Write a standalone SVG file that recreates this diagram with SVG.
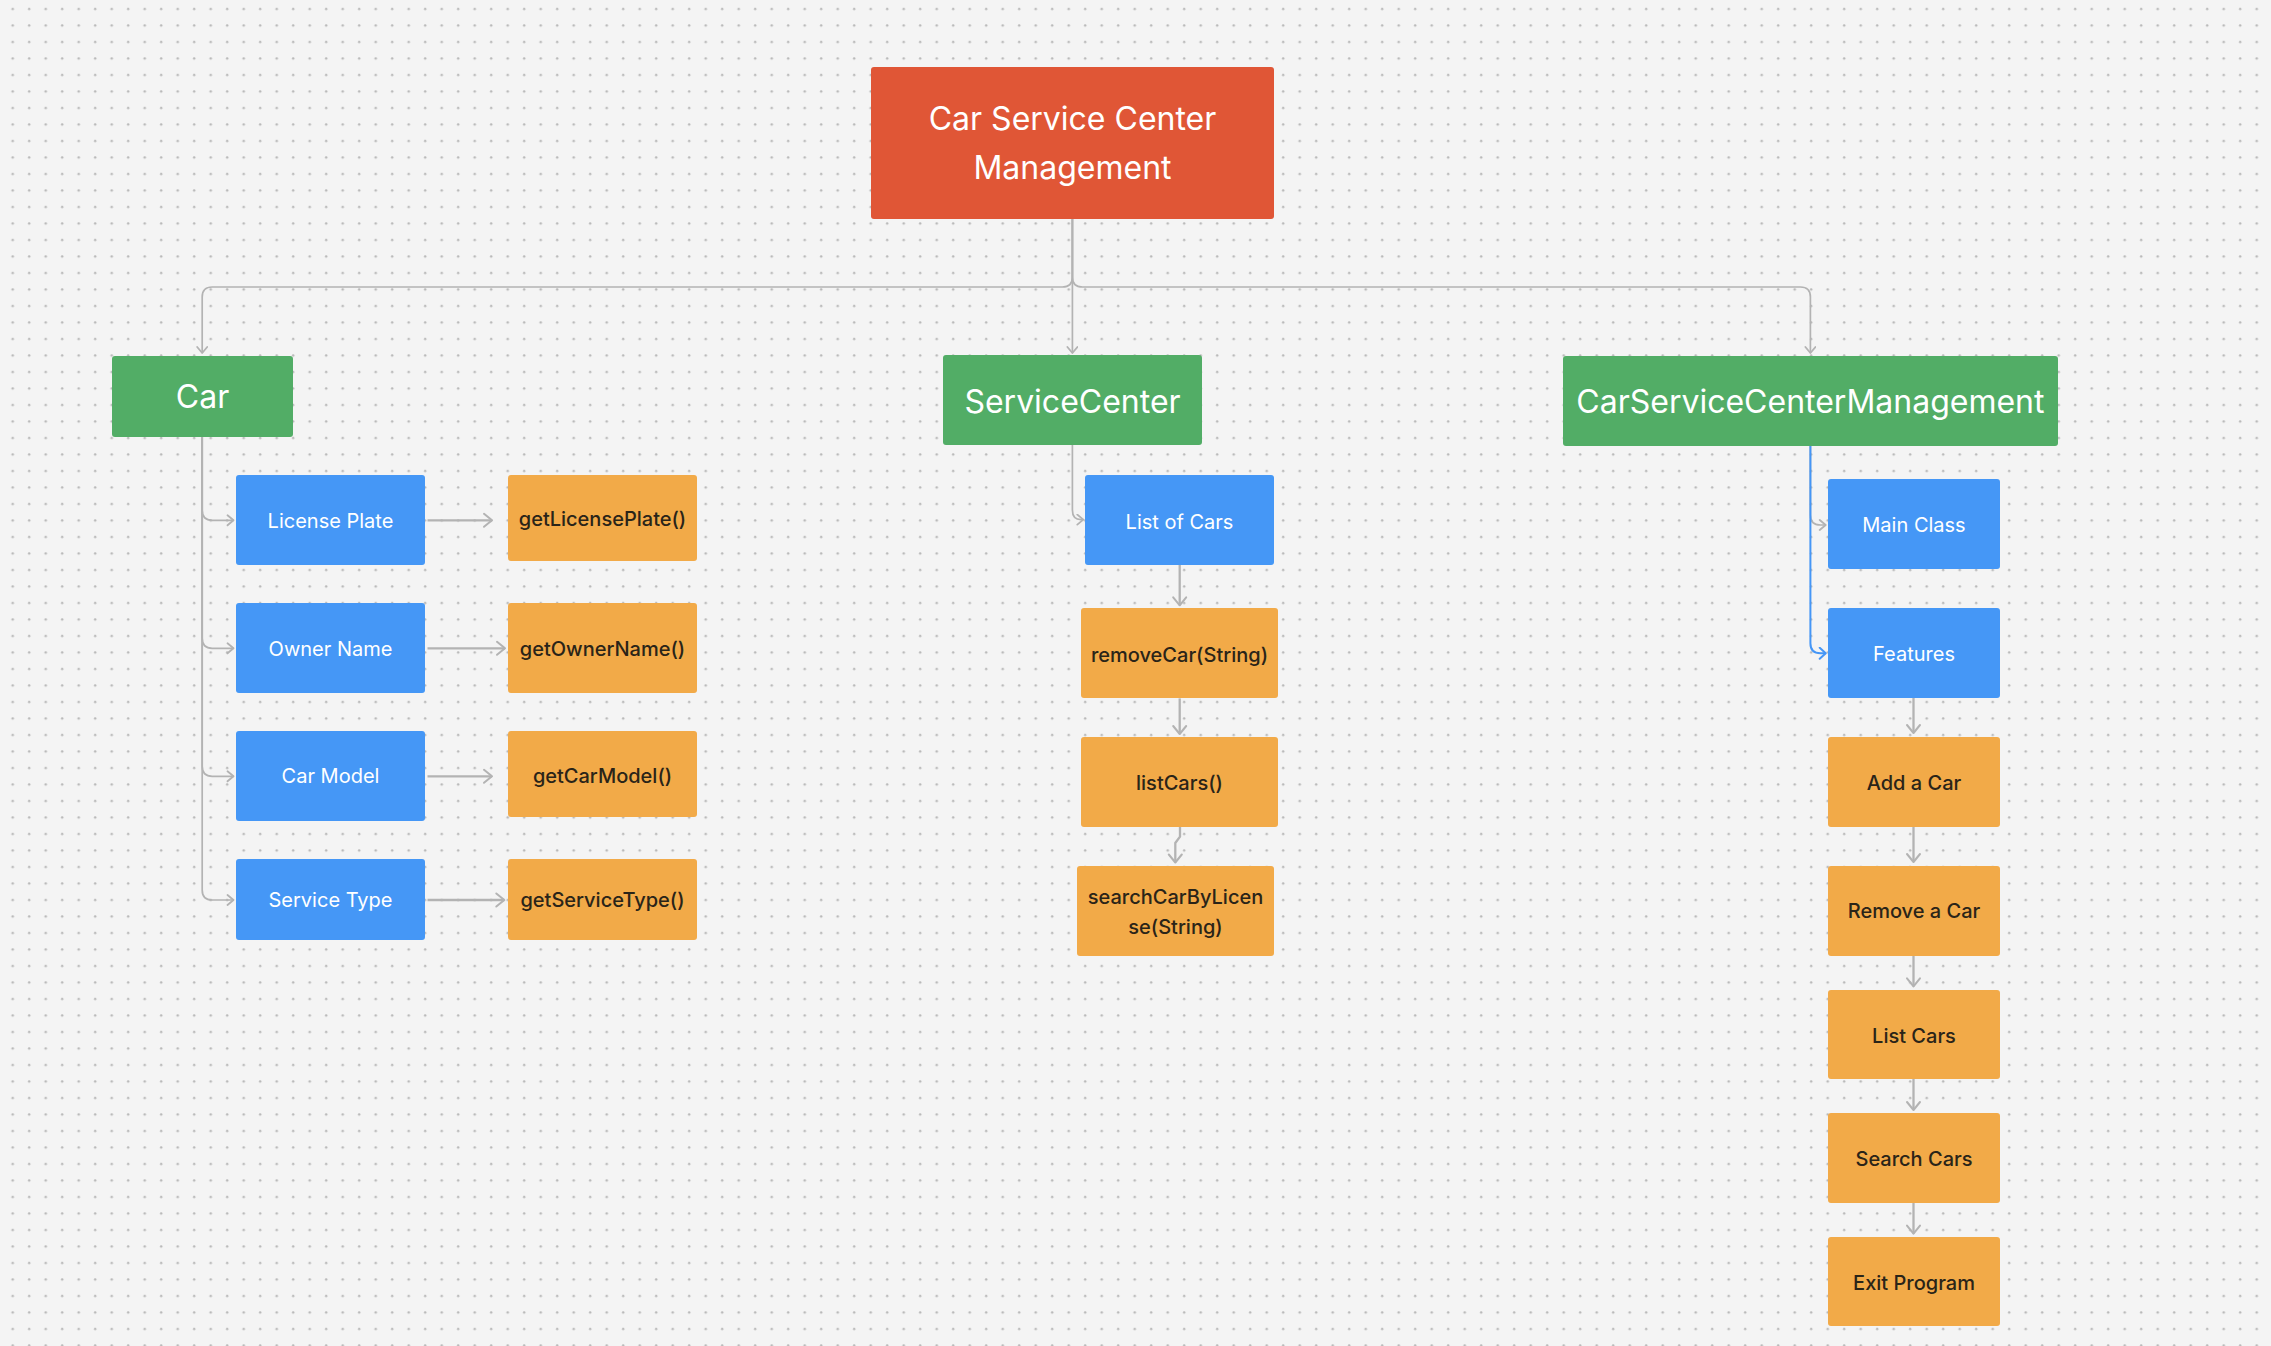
<svg xmlns="http://www.w3.org/2000/svg" width="2271" height="1346" viewBox="0 0 2271 1346">
<defs>
<pattern id="dots" x="0" y="0" width="16.5" height="16.5" patternUnits="userSpaceOnUse">
<circle cx="12.7" cy="9" r="1.25" fill="#b8b8b8"/>
</pattern>
<marker id="arr" markerUnits="userSpaceOnUse" markerWidth="14" markerHeight="18" refX="10" refY="8" orient="auto">
<path d="M2,1.5 L10,8 L2,14.5" fill="none" stroke="#b3b3b3" stroke-width="2" stroke-linecap="round" stroke-linejoin="round"/>
</marker>
<marker id="arrs" markerUnits="userSpaceOnUse" markerWidth="12" markerHeight="14" refX="8" refY="6" orient="auto">
<path d="M2,1 L8,6 L2,11" fill="none" stroke="#b3b3b3" stroke-width="1.8" stroke-linecap="round" stroke-linejoin="round"/>
</marker>
<marker id="arrb" markerUnits="userSpaceOnUse" markerWidth="12" markerHeight="14" refX="8" refY="6" orient="auto">
<path d="M2,0.5 L8,6 L2,11.5" fill="none" stroke="#4596f6" stroke-width="2" stroke-linecap="round" stroke-linejoin="round"/>
</marker>
</defs>
<style>
.t{font-family:Inter,"Liberation Sans",sans-serif;text-anchor:middle}
.big{font-size:32px;fill:#ffffff}
.w{font-size:20px;fill:#ffffff}
.d{font-size:20px;fill:#2a2418;font-weight:500}
.red{fill:#e05636}
.green{fill:#52ad66}
.blue{fill:#4597f6}
.orange{fill:#f2aa48}
.tree{fill:none;stroke:#b3b3b3;stroke-width:1.7}
.direct{fill:none;stroke:#b3b3b3;stroke-width:2.3}
.sel{fill:none;stroke:#4596f6;stroke-width:2}
</style>
<rect width="2271" height="1346" fill="#f4f4f4"/>
<rect width="2271" height="1346" fill="url(#dots)"/>

<g id="connectors">
<path class="tree" d="M1072.4,219 V277 Q1072.4,287 1062.4,287 H212.2 Q202.2,287 202.2,297 V353" marker-end="url(#arrs)"/>
<path class="tree" d="M1072.4,219 V353" marker-end="url(#arrs)"/>
<path class="tree" d="M1072.4,219 V277 Q1072.4,287 1082.4,287 H1800.4 Q1810.4,287 1810.4,297 V353" marker-end="url(#arrs)"/>

<path class="tree" d="M202.2,437 V510.3 Q202.2,520.3 212.2,520.3 H233.5" marker-end="url(#arrs)"/>
<path class="tree" d="M202.2,437 V638.3 Q202.2,648.3 212.2,648.3 H233.5" marker-end="url(#arrs)"/>
<path class="tree" d="M202.2,437 V766.3 Q202.2,776.3 212.2,776.3 H233.5" marker-end="url(#arrs)"/>
<path class="tree" d="M202.2,437 V890 Q202.2,900 212.2,900 H233.5" marker-end="url(#arrs)"/>

<path class="direct" d="M427.5,520.3 H492" marker-end="url(#arr)"/>
<path class="direct" d="M427.5,648.3 H505" marker-end="url(#arr)"/>
<path class="direct" d="M427.5,776.3 H492" marker-end="url(#arr)"/>
<path class="direct" d="M427.5,900 H504.3" marker-end="url(#arr)"/>

<path class="tree" d="M1072.4,445 V510 Q1072.4,519.6 1081,519.6 H1083.3" marker-end="url(#arrs)"/>
<path class="direct" d="M1179.7,565 V605.3" marker-end="url(#arr)"/>
<path class="direct" d="M1179.7,698.4 V734" marker-end="url(#arr)"/>
<path class="direct" d="M1180,827 V836.7 L1175.3,843 V862.5" marker-end="url(#arr)"/>

<path class="tree" d="M1810.4,446 V515 Q1810.4,525 1820.4,525 H1825.7" marker-end="url(#arrs)"/>
<path class="sel" d="M1810.4,446 V643.3 Q1810.4,653.3 1820.4,653.3 H1825.7" marker-end="url(#arrb)"/>

<path class="direct" d="M1913.5,698 V733" marker-end="url(#arr)"/>
<path class="direct" d="M1913.5,827 V862" marker-end="url(#arr)"/>
<path class="direct" d="M1913.5,955.5 V986.4" marker-end="url(#arr)"/>
<path class="direct" d="M1913.5,1079 V1110" marker-end="url(#arr)"/>
<path class="direct" d="M1913.5,1202.7 V1233.6" marker-end="url(#arr)"/>
</g>

<g id="root">
<rect class="red" x="871" y="67" width="403" height="152" rx="3"/>
<text class="t big" x="1072.5" y="130">Car Service Center</text>
<text class="t big" x="1072.5" y="179">Management</text>
</g>

<g id="car">
<rect class="green" x="112" y="356" width="181" height="81" rx="3"/>
<text class="t big" x="202.5" y="408.3">Car</text>
</g>
<g id="license-plate">
<rect class="blue" x="236" y="475" width="189" height="90" rx="3"/>
<text class="t w" x="330.5" y="528.3">License Plate</text>
</g>
<g id="owner-name">
<rect class="blue" x="236" y="603" width="189" height="90" rx="3"/>
<text class="t w" x="330.5" y="656">Owner Name</text>
</g>
<g id="car-model">
<rect class="blue" x="236" y="731" width="189" height="90" rx="3"/>
<text class="t w" x="330.5" y="783">Car Model</text>
</g>
<g id="service-type">
<rect class="blue" x="236" y="859" width="189" height="81" rx="3"/>
<text class="t w" x="330.5" y="907">Service Type</text>
</g>
<g id="get-license-plate">
<rect class="orange" x="508" y="475" width="189" height="86" rx="3"/>
<text class="t d" x="602.5" y="525.7">getLicensePlate()</text>
</g>
<g id="get-owner-name">
<rect class="orange" x="508" y="603" width="189" height="90" rx="3"/>
<text class="t d" x="602.5" y="656">getOwnerName()</text>
</g>
<g id="get-car-model">
<rect class="orange" x="508" y="731" width="189" height="86" rx="3"/>
<text class="t d" x="602.5" y="783">getCarModel()</text>
</g>
<g id="get-service-type">
<rect class="orange" x="508" y="859" width="189" height="81" rx="3"/>
<text class="t d" x="602.5" y="907">getServiceType()</text>
</g>

<g id="service-center">
<rect class="green" x="943" y="355" width="259" height="90" rx="3"/>
<text class="t big" x="1072.5" y="412.7">ServiceCenter</text>
</g>
<g id="list-of-cars">
<rect class="blue" x="1085" y="475" width="189" height="90" rx="3"/>
<text class="t w" x="1179.5" y="528.6">List of Cars</text>
</g>
<g id="remove-car">
<rect class="orange" x="1081" y="608" width="197" height="90" rx="3"/>
<text class="t d" x="1179.5" y="661.6">removeCar(String)</text>
</g>
<g id="list-cars-method">
<rect class="orange" x="1081" y="737" width="197" height="90" rx="3"/>
<text class="t d" x="1179.5" y="790.2">listCars()</text>
</g>
<g id="search-car">
<rect class="orange" x="1077" y="866" width="197" height="90" rx="3"/>
<text class="t d" x="1175.5" y="904">searchCarByLicen</text>
<text class="t d" x="1175.5" y="934">se(String)</text>
</g>

<g id="cscm">
<rect class="green" x="1563" y="356" width="495" height="90" rx="3"/>
<text class="t big" x="1810.4" y="413.3">CarServiceCenterManagement</text>
</g>
<g id="main-class">
<rect class="blue" x="1828" y="479" width="172" height="90" rx="3"/>
<text class="t w" x="1914" y="532.3">Main Class</text>
</g>
<g id="features">
<rect class="blue" x="1828" y="608" width="172" height="90" rx="3"/>
<text class="t w" x="1914" y="660.7">Features</text>
</g>
<g id="add-car">
<rect class="orange" x="1828" y="737" width="172" height="90" rx="3"/>
<text class="t d" x="1914" y="789.8">Add a Car</text>
</g>
<g id="remove-a-car">
<rect class="orange" x="1828" y="866" width="172" height="90" rx="3"/>
<text class="t d" x="1914" y="918.4">Remove a Car</text>
</g>
<g id="list-cars">
<rect class="orange" x="1828" y="990" width="172" height="89" rx="3"/>
<text class="t d" x="1914" y="1042.8">List Cars</text>
</g>
<g id="search-cars">
<rect class="orange" x="1828" y="1113" width="172" height="90" rx="3"/>
<text class="t d" x="1914" y="1165.6">Search Cars</text>
</g>
<g id="exit-program">
<rect class="orange" x="1828" y="1237" width="172" height="89" rx="3"/>
<text class="t d" x="1914" y="1290">Exit Program</text>
</g>
</svg>
